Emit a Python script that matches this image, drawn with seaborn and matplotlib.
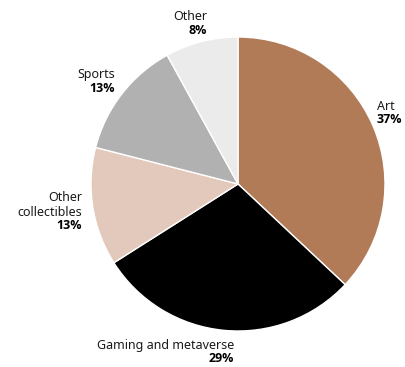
import matplotlib
matplotlib.use("Agg")
import matplotlib.pyplot as plt
from matplotlib import font_manager
import seaborn as sns

categories = ["Art", "Gaming and metaverse", "Other\ncollectibles", "Sports", "Other"]
shares = [37, 29, 13, 13, 8]
colors = ["#b27b58", "#000000", "#e3c9bc", "#b1b1b1", "#ebebeb"]

sns.set_theme(style="white")
plt.rcParams["font.family"] = ["Noto Sans", "DejaVu Sans"]

# pick a family that really has a bold face
bold_family = "DejaVu Sans"
for fam in ["Noto Sans", "Open Sans", "Lato", "Roboto"]:
    fp = font_manager.findfont(font_manager.FontProperties(family=fam, weight="bold"),
                               fallback_to_default=False)
    if "bold" in fp.lower():
        bold_family = fam
        break

W, H = 406, 367
cx, cy, r = 238, 184, 147

fig = plt.figure(figsize=(W / 100, H / 100), dpi=100)
ax = fig.add_axes([(cx - r) / W, (H - cy - r) / H, 2 * r / W, 2 * r / H])

ax.pie(shares, colors=colors, startangle=90, counterclock=False,
       wedgeprops=dict(edgecolor="white", linewidth=1))
ax.set_xlim(-1, 1)
ax.set_ylim(-1, 1)
ax.set_aspect("equal")
ax.axis("off")

# label anchor (pixel x of aligned edge, pixel y of percent line centre, alignment)
label_pos = [(377, 120, "left"), (234, 359, "right"), (82, 226, "right"),
             (115, 88, "right"), (207, 30, "right")]

for name, val, (px, py, ha) in zip(categories, shares, label_pos):
    x = (px - cx) / r
    y = (cy - py) / r
    ax.text(x, y, f"{val}%", ha=ha, va="center", fontsize=9, fontweight="bold",
            family=[bold_family, "DejaVu Sans"], color="#000000", clip_on=False)
    ax.text(x, y + 7 / r, name, ha=ha, va="bottom", fontsize=9, color="#1a1a1a",
            multialignment=ha, linespacing=1.15, clip_on=False)

fig.savefig("out.png", dpi=100)
